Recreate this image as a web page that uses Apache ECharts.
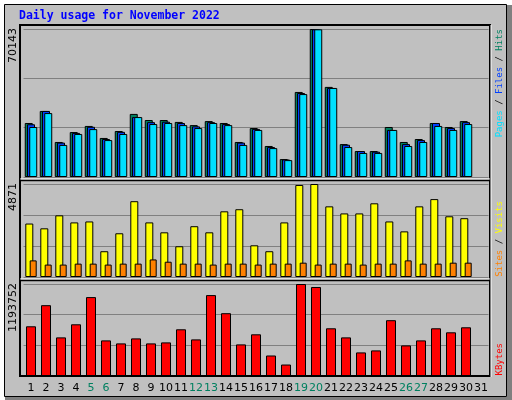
<!DOCTYPE html>
<html><head><meta charset="utf-8">
<script src="https://cdn.jsdelivr.net/npm/echarts@6/dist/echarts.min.js"></script>
<style>html,body{margin:0;padding:0;background:#fff}#c{width:512px;height:400px}</style>
</head><body><div id="c"></div>
<script>
var days = [];
for (var d = 1; d <= 31; d++) days.push(String(d));
var weekendDays = ['5','6','12','13','19','20','26','27'];
var hits  = [25600,31300,16600,21300,24200,18500,21800,29900,27000,27000,26100,24600,26500,25600,16600,23200,14700,8500,40300,70143,42700,15600,12300,12300,23700,16600,18000,25600,23700,26500,null];
var files = [25000,31300,16300,20900,23800,18000,21400,28400,26000,26200,25600,24000,26000,25100,16300,22800,14200,8300,39800,70000,42200,15300,12300,12000,22300,15600,17500,25600,23200,26000,null];
var pages = [23700,30300,15200,20400,22700,17500,20400,28400,25100,25600,24600,23200,25600,24600,15200,22300,13700,8000,39300,70000,42200,14200,11400,11400,22300,14700,16600,24200,22300,25100,null];
var visits = [2800,2550,3230,2860,2910,1350,2290,3970,2860,2340,1610,2660,2340,3440,3550,1660,1350,2860,4820,4871,3700,3330,3330,3860,2910,2390,3700,4080,3180,3080,null];
var sites  = [870,650,650,700,700,650,700,700,920,800,700,700,650,700,700,650,700,700,750,650,700,700,650,700,700,870,700,700,750,750,null];
var kbytes = [645000,919000,501000,671000,1024000,462000,423000,488000,423000,436000,606000,475000,1050000,815000,410000,541000,266000,149000,1193752,1155000,619000,501000,306000,332000,724000,397000,462000,619000,567000,632000,null];
var maxLabels = ['70143','4871','1193752'];
var maxVals = [70143,4871,1193752];

var chart = echarts.init(document.getElementById('c'));
var mono = 'DejaVu Sans Mono';
var bs = {borderColor:'#000',borderWidth:1};
function xAx(i, show){
  return {type:'category',gridIndex:i,data:days,boundaryGap:true,z:20,
    axisLine:{show:false},axisTick:{show:false},
    axisLabel:{show:show,interval:0,fontFamily:'DejaVu Sans',fontSize:11,margin:7,
      color:function(v){return weekendDays.indexOf(v)>=0?'#008060':'#000';}}};
}
function yAx(i){
  return {type:'value',gridIndex:i,min:0,max:maxVals[i],interval:maxVals[i]/3,z:2,
    axisLabel:{show:false},axisLine:{show:false},axisTick:{show:false},
    splitLine:{show:true,lineStyle:{color:'#808080',width:1}}};
}
function vtext(x,y,align,rich,text,font){
  return {type:'text',x:x,y:y,rotation:Math.PI/2,
    style:{text:text,rich:rich,align:align,verticalAlign:'middle',font:font||('9px '+mono)}};
}
var frames = [
  {type:'rect',shape:{x:0,y:0,width:512,height:400},style:{fill:'#fff'},silent:true},
  {type:'rect',shape:{x:5,y:397,width:507,height:3},style:{fill:'#808080'},silent:true},
  {type:'rect',shape:{x:507,y:5,width:5,height:395},style:{fill:'#808080'},silent:true},
  {type:'rect',shape:{x:4.5,y:4.5,width:502,height:392},style:{fill:'#c0c0c0',stroke:'#000',lineWidth:1},silent:true},
  {type:'rect',shape:{x:20,y:25,width:470,height:351},style:{fill:'none',stroke:'#000',lineWidth:2},silent:true,z:10},
  {type:'line',shape:{x1:20,y1:179,x2:490,y2:179},style:{stroke:'#fff',lineWidth:1},silent:true,z:10},
  {type:'line',shape:{x1:20,y1:180.5,x2:490,y2:180.5},style:{stroke:'#000',lineWidth:1.5},silent:true,z:10},
  {type:'line',shape:{x1:20,y1:279,x2:490,y2:279},style:{stroke:'#fff',lineWidth:1},silent:true,z:10},
  {type:'line',shape:{x1:20,y1:280.5,x2:490,y2:280.5},style:{stroke:'#000',lineWidth:1.5},silent:true,z:10},
  {type:'line',shape:{x1:491,y1:25,x2:491,y2:377},style:{stroke:'#fff',lineWidth:1},silent:true,z:10},
  {type:'text',x:19,y:16,style:{text:'Daily usage for November 2022',font:'bold 11.5px '+mono,fill:'#0000ff',verticalAlign:'middle'}},
  vtext(13,28,'right',{},maxLabels[0],'11px DejaVu Sans'),
  vtext(13,183,'right',{},maxLabels[1],'11px DejaVu Sans'),
  vtext(13,283,'right',{},maxLabels[2],'11px DejaVu Sans'),
  vtext(500,29,'right',{p:{fill:'#00e0ff'},s:{fill:'#000'},f:{fill:'#0040ff'},h:{fill:'#008060'}},'{p|Pages}{s| / }{f|Files}{s| / }{h|Hits}'),
  vtext(500,201,'right',{a:{fill:'#ff8000'},s:{fill:'#000'},b:{fill:'#ffff00'}},'{a|Sites}{s| / }{b|Visits}'),
  vtext(500,343,'right',{k:{fill:'#ff0000'}},'{k|KBytes}')
];
frames.forEach(function(g){ if(g.type==='text') g.style.fill = g.style.fill || '#000'; g.z = g.z||5; });
frames[0].z=-10;frames[1].z=-10;frames[2].z=-10;frames[3].z=-9;

chart.setOption({
  animation:false,
  graphic:{elements:frames},
  grid:[
    {left:23.5,width:465,top:29,height:148},
    {left:23.5,width:465,top:184,height:93},
    {left:23.5,width:465,top:284,height:92}
  ],
  xAxis:[xAx(0,false),xAx(1,false),xAx(2,true)],
  yAxis:[yAx(0),yAx(1),yAx(2)],
  series:[
    {type:'bar',xAxisIndex:0,yAxisIndex:0,data:hits,barWidth:8,barGap:'-72%',itemStyle:Object.assign({color:'#008060'},bs),z:3},
    {type:'bar',xAxisIndex:0,yAxisIndex:0,data:files,barWidth:8,barGap:'-72%',itemStyle:Object.assign({color:'#0040ff'},bs),z:4},
    {type:'bar',xAxisIndex:0,yAxisIndex:0,data:pages,barWidth:8,barGap:'-72%',itemStyle:Object.assign({color:'#00e0ff'},bs),z:5},
    {type:'bar',xAxisIndex:1,yAxisIndex:1,data:visits,barWidth:8,barGap:'-45%',itemStyle:Object.assign({color:'#ffff00'},bs),z:3},
    {type:'bar',xAxisIndex:1,yAxisIndex:1,data:sites,barWidth:7,barGap:'-45%',itemStyle:Object.assign({color:'#ff8000'},bs),z:4},
    {type:'bar',xAxisIndex:2,yAxisIndex:2,data:kbytes,barWidth:10,itemStyle:Object.assign({color:'#ff0000'},bs),z:3}
  ]
});
</script></body></html>
